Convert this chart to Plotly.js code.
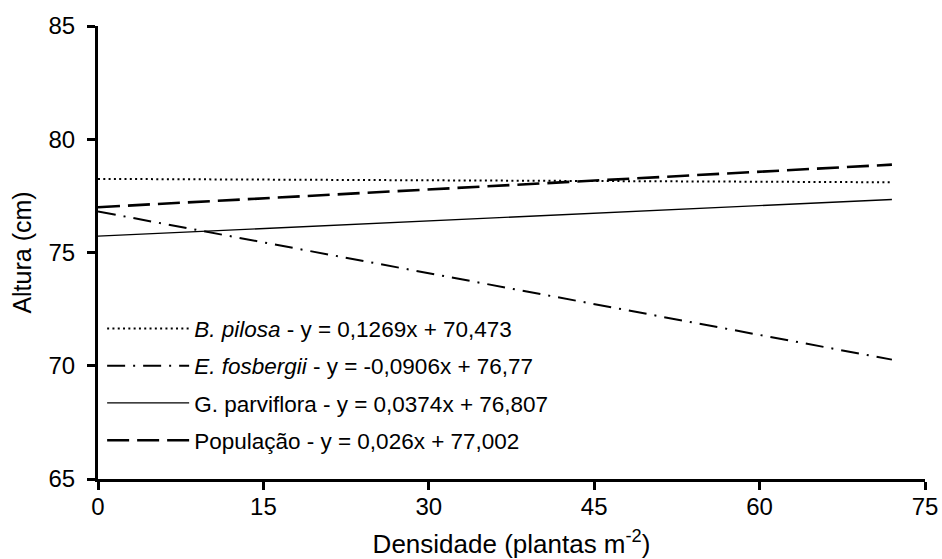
<!DOCTYPE html>
<html>
<head>
<meta charset="utf-8">
<script src="https://cdn.plot.ly/plotly-3.0.1.min.js"></script>
<style>html,body{margin:0;padding:0;background:#fff;}#chart{width:942px;height:559px;}</style>
</head>
<body>
<div id="chart"></div>
<script>
// Data (line endpoints)
const xEnds = [0, 72];
const pilosaY = [78.25, 78.1];
const fosbergiiY = [76.81, 70.27];
const parvifloraY = [75.72, 77.34];
const populacaoY = [77.0, 78.88];

const legendNames = [
  "<i>B. pilosa</i> - y = 0,1269x + 70,473",
  "<i>E. fosbergii</i> - y = -0,0906x + 76,77",
  "G. parviflora - y = 0,0374x + 76,807",
  "População - y = 0,026x + 77,002"
];

const xTicks = [0, 15, 30, 45, 60, 75];
const yTicks = [65, 70, 75, 80, 85];

const traces = [
  {x: xEnds, y: pilosaY, name: legendNames[0], legendgroup: "a", mode: "lines",
   line: {color: "#000", width: 2, dash: "2px,3.3px"}},
  {x: xEnds, y: fosbergiiY, name: legendNames[1], legendgroup: "b", mode: "lines",
   line: {color: "#000", width: 2, dash: "18px,8px,2px,8px"}},
  {x: xEnds, y: parvifloraY, name: legendNames[2], legendgroup: "c", mode: "lines",
   line: {color: "#000", width: 1.3}},
  {x: xEnds, y: populacaoY, name: legendNames[3], legendgroup: "d", mode: "lines",
   line: {color: "#000", width: 2.6, dash: "22px,8px"}}
];

const layout = {
  width: 942, height: 559,
  margin: {l: 98, r: 17, t: 26, b: 80},
  paper_bgcolor: "#fff", plot_bgcolor: "#fff",
  font: {family: "Liberation Sans, Arial, sans-serif", color: "#000", size: 24},
  showlegend: true,
  legend: {x: 0.005, y: 0.039, xanchor: "left", yanchor: "bottom",
    bgcolor: "rgba(0,0,0,0)", font: {size: 22.5}, tracegroupgap: 5, itemwidth: 82},
  xaxis: {
    range: [0, 75], tickvals: xTicks, ticktext: xTicks.map(String),
    showgrid: false, zeroline: false, showline: true, linecolor: "#000", linewidth: 3,
    ticks: "outside", ticklen: 8, tickwidth: 3, tickcolor: "#000",
    tickfont: {size: 24}, ticklabelstandoff: -4,
    title: {text: "Densidade (plantas m<sup>-2</sup>)", font: {size: 26}, standoff: 19}
  },
  yaxis: {
    range: [65, 85], tickvals: yTicks, ticktext: yTicks.map(String),
    showgrid: false, zeroline: false, showline: true, linecolor: "#000", linewidth: 3,
    ticks: "outside", ticklen: 8, tickwidth: 3, tickcolor: "#000",
    tickfont: {size: 24}, ticklabelstandoff: 7,
    title: {text: "Altura (cm)", font: {size: 25}, standoff: 10}
  }
};

Plotly.newPlot("chart", traces, layout, {displayModeBar: false, staticPlot: true});
</script>
</body>
</html>
